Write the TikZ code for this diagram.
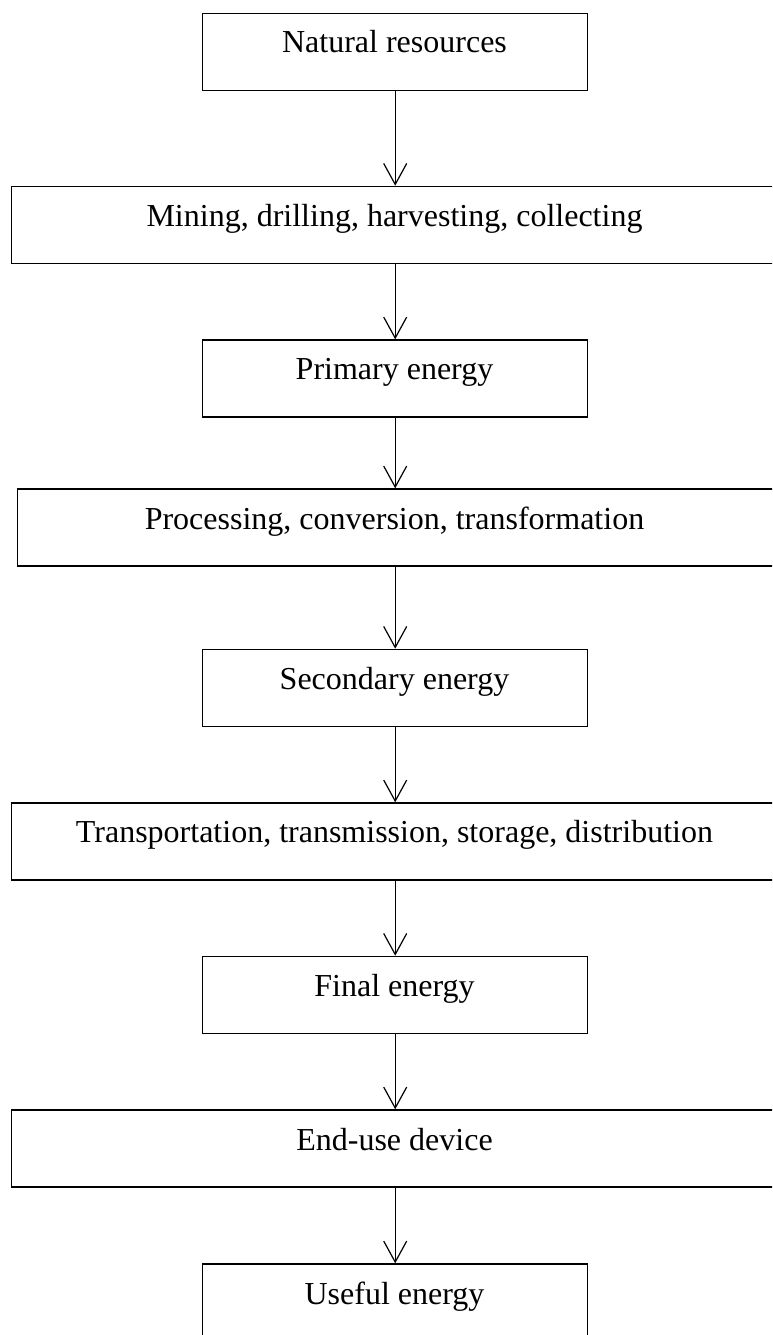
\documentclass[tikz,border=0pt]{standalone}
\usepackage{fontspec}
\setmainfont{Liberation Serif}
\usetikzlibrary{arrows.meta}
\begin{document}
\begin{tikzpicture}[x=1pt,y=1pt,
  box/.style={draw, line width=1.4pt, rectangle, inner sep=0pt, anchor=north west, minimum height=77pt},
  narrow/.style={box, minimum width=385pt},
  wide/.style={box, minimum width=775pt},
  lbl/.style={anchor=base, font=\fontsize{32}{38}\selectfont, inner sep=0pt},
  arr/.style={line width=1.2pt, -{Straight Barb[length=21pt,width=23pt]}}]
\useasboundingbox (0,0) rectangle (772,-1335);
\fill[white] (0,0) rectangle (772,-1335);
\clip (0,0) rectangle (772,-1335);
\node[narrow] (b1) at (202,-12.7) {};
\node[wide]   (b2) at (10.7,-185.7) {};
\node[narrow] (b3) at (202,-339.3) {};
\node[wide]   (b4) at (16.7,-488.3) {};
\node[narrow] (b5) at (202,-648.7) {};
\node[wide]   (b6) at (10.7,-802.3) {};
\node[narrow] (b7) at (202,-955.7) {};
\node[wide]   (b8) at (10.7,-1109.3) {};
\node[narrow] (b9) at (202,-1263.3) {};
\coordinate (cx) at (394.5,0);
\node[lbl] (t1) at (cx |- 0,-52.7) {Natural resources};
\node[lbl] (t2) at (cx |- 0,-226.7) {Mining, drilling, harvesting, collecting};
\node[lbl] (t3) at (cx |- 0,-379.7) {Primary energy};
\node[lbl] (t4) at (cx |- 0,-529) {Processing, conversion, transformation};
\node[lbl] (t5) at (cx |- 0,-689.7) {Secondary energy};
\node[lbl] (t6) at (cx |- 0,-842.7) {Transportation, transmission, storage, distribution};
\node[lbl] (t7) at (cx |- 0,-996.3) {Final energy};
\node[lbl] (t8) at (cx |- 0,-1150) {End-use device};
\node[lbl] (t9) at (cx |- 0,-1304) {Useful energy};
\draw[arr] (b1.south) -- (b1.south |- b2.north);
\draw[arr] (b1.south |- b2.south) -- (b3.north);
\draw[arr] (b3.south) -- (b3.south |- b4.north);
\draw[arr] (b3.south |- b4.south) -- (b5.north);
\draw[arr] (b5.south) -- (b5.south |- b6.north);
\draw[arr] (b5.south |- b6.south) -- (b7.north);
\draw[arr] (b7.south) -- (b7.south |- b8.north);
\draw[arr] (b7.south |- b8.south) -- (b9.north);
\end{tikzpicture}
\end{document}
